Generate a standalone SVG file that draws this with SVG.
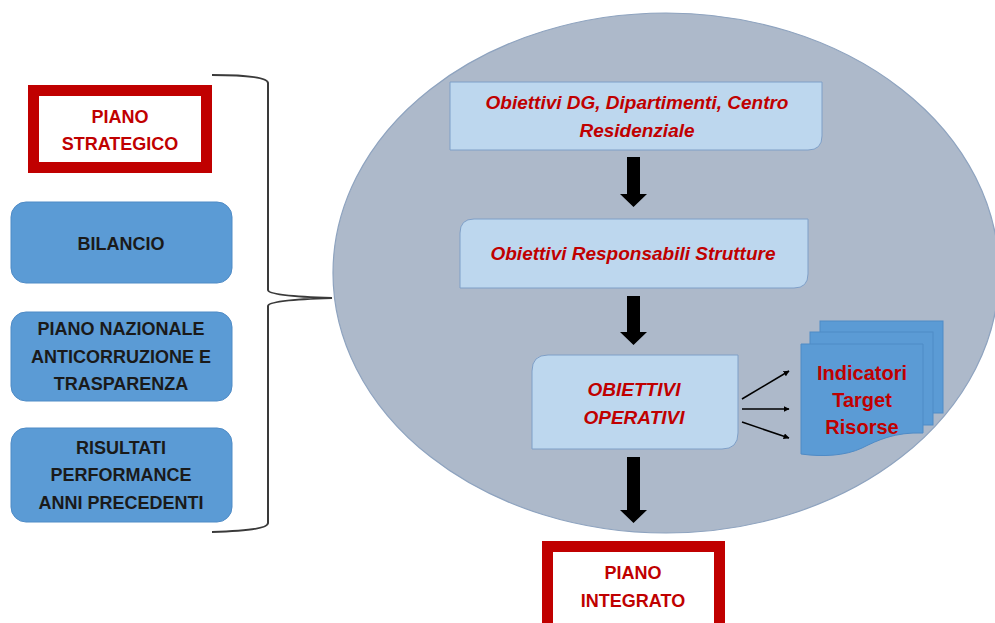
<svg xmlns="http://www.w3.org/2000/svg" width="995" height="623" viewBox="0 0 995 623">
<defs>
<style>
.lbl{font-family:"Liberation Sans",Arial,sans-serif;font-weight:bold;font-size:18px;text-anchor:middle}
.red{fill:#c00000}
.blk{fill:#1a1a1a}
.it{font-style:italic;font-size:19px}
.doc{font-size:20px}
.blue{fill:#5b9bd5;stroke:#4f8bc6;stroke-width:1}
.light{fill:#bdd7ee;stroke:#7f9fc7;stroke-width:1}
.frame{fill:#fff;stroke:#c00000;stroke-width:11}
.big{fill:#000}
.thin{stroke:#000;stroke-width:1.6;fill:none;marker-end:url(#ah)}
</style>
<marker id="ah" viewBox="0 0 10 10" refX="9" refY="5" markerWidth="6" markerHeight="6" orient="auto" markerUnits="userSpaceOnUse">
<path d="M0,0 L10,5 L0,10 z" fill="#000"/>
</marker>
</defs>
<rect width="995" height="623" fill="#fff"/>

<g id="ellipse">
<ellipse cx="666" cy="273" rx="333" ry="260" fill="#adb9ca" stroke="#8ea3bf" stroke-width="1.2"/>
</g>

<g id="piano-strategico">
<rect class="frame" x="33.5" y="90.5" width="173" height="77"/>
<text class="lbl red" x="120" y="122.5">PIANO</text>
<text class="lbl red" x="120" y="149.5">STRATEGICO</text>
</g>

<g id="bilancio">
<rect class="blue" x="11" y="202" width="221" height="81" rx="15"/>
<text class="lbl blk" x="121" y="249.5">BILANCIO</text>
</g>

<g id="piano-nazionale">
<rect class="blue" x="11" y="312" width="221" height="89" rx="15"/>
<text class="lbl blk" x="121" y="334.5">PIANO NAZIONALE</text>
<text class="lbl blk" x="121" y="362.5">ANTICORRUZIONE E</text>
<text class="lbl blk" x="121" y="389.5">TRASPARENZA</text>
</g>

<g id="risultati">
<rect class="blue" x="11" y="428" width="221" height="94" rx="15"/>
<text class="lbl blk" x="121" y="453.5">RISULTATI</text>
<text class="lbl blk" x="121" y="480.5">PERFORMANCE</text>
<text class="lbl blk" x="121" y="508.5">ANNI PRECEDENTI</text>
</g>

<g id="obiettivi-dg">
<path class="light" d="M450,82 H822 V136 Q822,150 808,150 H450 Z"/>
<text class="lbl red it" x="637" y="109">Obiettivi DG, Dipartimenti, Centro</text>
<text class="lbl red it" x="637" y="137">Residenziale</text>
</g>

<g id="obiettivi-responsabili">
<path class="light" d="M474,219 H808 V274 Q808,288 794,288 H460 V233 Q460,219 474,219 Z"/>
<text class="lbl red it" x="633" y="260">Obiettivi Responsabili Strutture</text>
</g>

<g id="obiettivi-operativi">
<path class="light" d="M548,355 H738 V433 Q738,449 722,449 H532 V371 Q532,355 548,355 Z"/>
<text class="lbl red it" x="634" y="396">OBIETTIVI</text>
<text class="lbl red it" x="634" y="424">OPERATIVI</text>
</g>

<g id="indicatori">
<rect class="blue" x="820" y="321" width="123" height="92"/>
<rect class="blue" x="810" y="332" width="123" height="93"/>
<path class="blue" d="M801,344 H923 V433 C895,432 878,440 862,448 C845,456 822,457 801,454 Z"/>
<text class="lbl red doc" x="862" y="380">Indicatori</text>
<text class="lbl red doc" x="862" y="407">Target</text>
<text class="lbl red doc" x="862" y="434">Risorse</text>
</g>

<g id="piano-integrato">
<rect class="frame" x="547.5" y="546.5" width="172" height="90"/>
<text class="lbl red" x="633" y="579">PIANO</text>
<text class="lbl red" x="633" y="607">INTEGRATO</text>
</g>

<g id="connectors">
<path d="M268,83 C268,78 250,75 212,75 M268,83 V290 C268,295 300,297 332,298 C300,299 268,301 268,306 V523 C268,528 250,531 212,532" fill="none" stroke="#3a3a3a" stroke-width="2"/>
<path class="big" d="M627,157 H640 V194 H647 L633.5,207 L620,194 H627 Z"/>
<path class="big" d="M627,296 H640 V332 H647 L633.5,345 L620,332 H627 Z"/>
<path class="big" d="M627,457 H640 V510 H647 L633.5,523 L620,510 H627 Z"/>
<line class="thin" x1="742" y1="399" x2="789" y2="371"/>
<line class="thin" x1="742" y1="409" x2="789" y2="409"/>
<line class="thin" x1="742" y1="422" x2="789" y2="438"/>
</g>
</svg>
